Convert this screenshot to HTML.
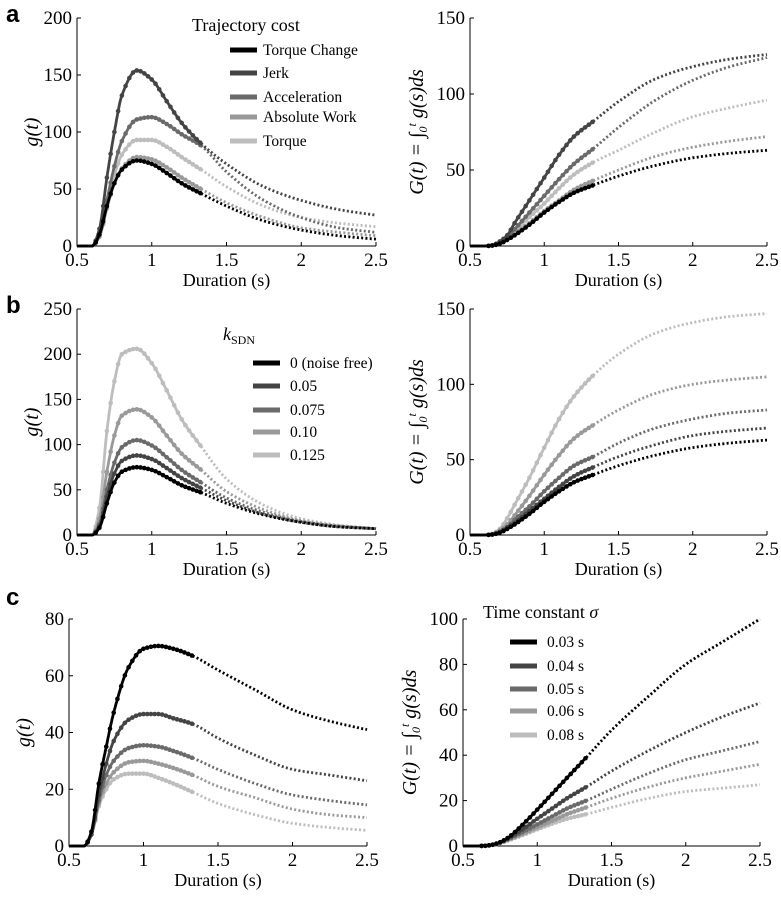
<!DOCTYPE html>
<html><head><meta charset="utf-8"><style>
html,body{margin:0;padding:0;background:#fff;}
svg{display:block;}
text{font-family:"Liberation Serif",serif;fill:#000;}
.tick{font-size:19px;}
.lbl{font-size:18px;}
.ylbl{font-size:20px;}
.panel{font-family:"Liberation Sans",sans-serif;font-weight:bold;font-size:24px;}
.leg{font-size:15.5px;}
</style></head><body>
<svg id="fig" width="781" height="899" viewBox="0 0 781 899" xmlns="http://www.w3.org/2000/svg"></svg>
<script>
const NS="http://www.w3.org/2000/svg";
const xs=[0.5,0.6,0.65,0.7,0.75,0.8,0.9,1.0,1.1,1.2,1.33,1.5,1.75,2.0,2.25,2.5];
const xTicks=[0.5,1,1.5,2,2.5];
const xTickLabels=["0.5","1","1.5","2","2.5"];
const colors=["#000","#444","#6a6a6a","#999","#bdbdbd"];
// Panel a
const aNames=["Torque Change","Jerk","Acceleration","Absolute Work","Torque"];
const aG=[
 [0,0,10,35,55,67,75,72,64,55,46,35,22,14,9,6],
 [0,0,15,60,100,132,154,146,127,108,90,72,52,40,32,27],
 [0,0,10,40,70,92,111,113,107,98,88,65,40,25,16,12],
 [0,0,8,33,55,68,78,76,69,60,50,38,25,16,12,9],
 [0,0,9,36,62,80,93,93,87,78,67,52,35,25,20,17]];
const aCum=[
 [0,0,0.3,1.5,4,7,14,22,29,35,40,46,53,58,61,63],
 [0,0,0.5,3,7,15,30,45,60,72,82,95,110,118,123,126],
 [0,0,0.4,2,6,11,22,33,44,54,64,78,96,109,118,124],
 [0,0,0.3,1.5,4,8,15,23,30,37,43,50,59,65,69,72],
 [0,0,0.3,2,5,10,19,28,38,47,55,63,75,85,91,96]];
// Panel b
const bNames=["0 (noise free)","0.05","0.075","0.10","0.125"];
const bG=[
 [0,0,8,35,58,70,75,72,64,55,47,35,22,14,9,7],
 [0,0,10,42,68,82,88,84,74,63,52,38,23,14,9,7],
 [0,0,12,50,80,97,105,99,86,72,58,41,25,15,10,7],
 [0,0,18,70,110,132,139,130,110,90,72,48,28,16,10,7],
 [0,0,30,115,170,200,206,190,160,128,98,62,33,18,11,7]];
const bCum=[
 [0,0,0.3,1.5,4,7,14,22,29,35,40,46,53,58,61,63],
 [0,0,0.3,2,5,8,16,24,32,39,45,52,60,66,69,71],
 [0,0,0.4,2,5,10,19,29,38,46,52,61,71,77,81,83],
 [0,0,0.5,3,7,13,26,40,53,64,73,83,94,100,103,105],
 [0,0,0.8,4,11,20,38,58,77,92,106,120,134,141,145,147]];
// Panel c
const cNames=["0.03 s","0.04 s","0.05 s","0.06 s","0.08 s"];
const cG=[
 [0,0,5,22,35,47,63,69.5,70.5,69.5,67,62,55,48,44,41],
 [0,0,4,18,29,37,44.5,46.5,46.5,45,43,38,32,27,25,23],
 [0,0,4,16,25,30,34.5,35.5,35,33.5,31,27,22,18,16,14.5],
 [0,0,4,15,22,26,29.5,30,29,27.5,25,21,17,13,11,10],
 [0,0,4,14,20,23.5,25.5,25.5,24,22,19,15,11,8,6.5,5.5]];
const cCum=[
 [0,0,0.1,0.6,1.7,3.5,9.3,16,23,30,39,51,66,80,90,100],
 [0,0,0.1,0.6,1.6,3.2,7.3,12,16.5,21,26,33,42,50,57,63],
 [0,0,0.1,0.6,1.5,2.9,6.1,9.5,13,16.5,20,25,32,38,42,46],
 [0,0,0.1,0.5,1.4,2.6,5.3,8.2,11,14,17,21,26,30,33,36],
 [0,0,0.1,0.5,1.3,2.4,4.8,7.4,9.8,12,14,17,21,24,25.5,27]];

const svg=document.getElementById('fig');
function mk(tag,attrs,parent,txt){const e=document.createElementNS(NS,tag);for(const k in attrs)e.setAttribute(k,attrs[k]);if(txt!==undefined)e.textContent=txt;(parent||svg).appendChild(e);return e;}

function slopes(vals){ // Fritsch-Carlson monotone tangents
  const n=xs.length,d=[],m=[];
  for(let i=0;i<n-1;i++)d.push((vals[i+1]-vals[i])/(xs[i+1]-xs[i]));
  m[0]=d[0];m[n-1]=d[n-2];
  for(let i=1;i<n-1;i++){
    if(d[i-1]*d[i]<=0)m[i]=0;
    else{const h0=xs[i]-xs[i-1],h1=xs[i+1]-xs[i];const w1=2*h1+h0,w2=h1+2*h0;m[i]=(w1+w2)/(w1/d[i-1]+w2/d[i]);}
  }
  return m;
}
function interp(vals,m,t){
  const n=xs.length;let i=0;while(i<n-2&&xs[i+1]<t)i++;
  const h=xs[i+1]-xs[i];const u=(t-xs[i])/h;
  const u2=u*u,u3=u2*u;
  return Math.max(0,(2*u3-3*u2+1)*vals[i]+(u3-2*u2+u)*h*m[i]+(-2*u3+3*u2)*vals[i+1]+(u3-u2)*h*m[i+1]);
}

function panel(o){
  const g=mk('g',{});
  
  
  const X=v=>o.x0+(v-0.5)/2*(o.x1-o.x0);
  const Y=v=>o.y0-(v/o.ymax)*(o.y0-o.yt);
  const ax=mk('path',{d:`M${o.x0},${o.yt}V${o.y0}H${o.x1}`,stroke:'#000','stroke-width':1,fill:'none'},g);
  
  xTicks.forEach((t,i)=>{
    mk('line',{x1:X(t),x2:X(t),y1:o.y0,y2:o.y0-4,stroke:'#000'},g);
    const tl=mk('text',{x:X(t),y:o.y0+20,'text-anchor':'middle',class:'tick'},g,xTickLabels[i]);
    
  });
  o.yTicks.forEach(t=>{
    mk('line',{x1:o.x0,x2:o.x0+4,y1:Y(t),y2:Y(t),stroke:'#000'},g);
    const tl=mk('text',{x:o.x0-5,y:Y(t)+6,'text-anchor':'end',class:'tick'},g,String(t));
    
  });
  const xt=mk('text',{x:(o.x0+o.x1)/2,y:o.y0+40,'text-anchor':'middle',class:'lbl'},g,'Duration  (s)');
  
  const yt=mk('text',{transform:`translate(${o.ylx},${(o.y0+o.yt)/2}) rotate(-90)`,'text-anchor':'middle',class:'ylbl','font-style':'italic'},g);
  
  if(o.cum){yt.innerHTML='G(t) = <tspan font-style="normal">∫</tspan><tspan font-size="12" dy="4">0</tspan><tspan font-size="12" dy="-11">t</tspan><tspan dy="7"> g(s)ds</tspan>';}
  else yt.textContent='g(t)';
  for(let s=o.data.length-1;s>=0;s--){
    const vals=o.data[s];const col=colors[s];const m=slopes(vals);
    let sol='',dot='';
    for(let t=0.5;t<=1.3301;t+=0.005){sol+=(sol?'L':'M')+X(t).toFixed(1)+','+Y(interp(vals,m,t)).toFixed(1);}
    for(let t=1.33;t<=2.5001;t+=0.005){dot+=(dot?'L':'M')+X(t).toFixed(1)+','+Y(interp(vals,m,t)).toFixed(1);}
    const sl=mk('path',{d:sol,stroke:col,'stroke-width':2.8,fill:'none'},g);
    
    const dl=mk('path',{d:dot,stroke:col,'stroke-width':2.8,fill:'none','stroke-dasharray':'2 2.3'},g);
    
    for(let t=0.625;t<=1.331;t+=0.025){
      const mc=mk('circle',{cx:X(t),cy:Y(interp(vals,m,t)),r:2.3,fill:col},g);
      
    }
  }
  if(o.leg){
    const L=o.leg;
    const lg=mk('g',{},g);
    
    if(L.titleHTML){const tt=mk('text',{x:L.tx,y:L.ty,class:'lbl'},lg);tt.innerHTML=L.titleHTML;}
    o.names.forEach((n,i)=>{
      const y=L.ys[i];
      const e=mk('g',{},lg);
      
      mk('line',{x1:L.lx1,x2:L.lx2,y1:y,y2:y,stroke:colors[i],'stroke-width':5},e);
      mk('text',{x:L.textx,y:y+5,class:'leg'},e,n);
    });
  }
}
function letter(t,x,y){const e=mk('text',{x,y,class:'panel'},svg,t);}
letter('a',6,22);letter('b',6,313);letter('c',6,605);

panel({name:'panel-a-left',x0:77,x1:376,y0:246,yt:18,ymax:200,yTicks:[0,50,100,150,200],ylx:38,data:aG,names:aNames,
 leg:{titleHTML:'Trajectory cost',tx:192,ty:31,lx1:230,lx2:257,textx:263,ys:[50,73,97,117,141]}});
panel({name:'panel-a-right',x0:470,x1:767,y0:246,yt:18,ymax:150,yTicks:[0,50,100,150],ylx:423,cum:true,data:aCum});
panel({name:'panel-b-left',x0:77,x1:376,y0:535,yt:309,ymax:250,yTicks:[0,50,100,150,200,250],ylx:38,data:bG,names:bNames,
 leg:{titleHTML:'<tspan font-style="italic">k</tspan><tspan font-size="12" dy="4">SDN</tspan>',tx:223,ty:340,lx1:253,lx2:280,textx:290,ys:[363,386,410,432,455]}});
panel({name:'panel-b-right',x0:470,x1:767,y0:535,yt:309,ymax:150,yTicks:[0,50,100,150],ylx:423,cum:true,data:bCum});
panel({name:'panel-c-left',x0:69,x1:367,y0:846,yt:619,ymax:80,yTicks:[0,20,40,60,80],ylx:30,data:cG});
panel({name:'panel-c-right',x0:463,x1:760,y0:846,yt:619,ymax:100,yTicks:[0,20,40,60,80,100],ylx:416,cum:true,data:cCum,names:cNames,
 leg:{titleHTML:'Time constant <tspan font-style="italic">σ</tspan>',tx:483,ty:618,lx1:510,lx2:537,textx:547,ys:[642,666,689,711,735]}});
</script>
</body></html>
